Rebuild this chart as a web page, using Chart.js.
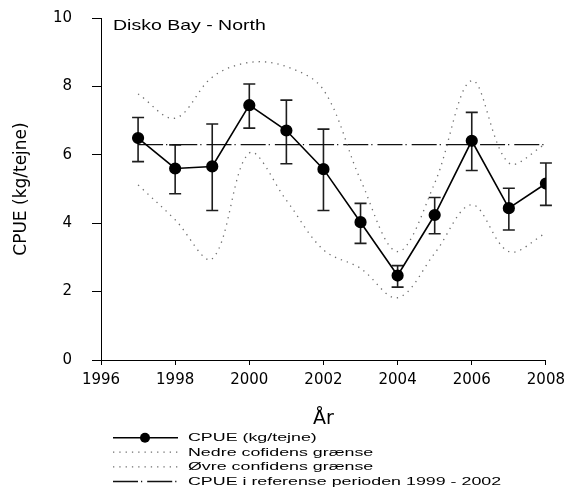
<!DOCTYPE html>
<html>
<head>
<meta charset="utf-8">
<script src="https://cdn.jsdelivr.net/npm/chart.js@4.4.1/dist/chart.umd.min.js"></script>
<style>
  html, body { margin: 0; padding: 0; background: #fff; }
  #wrap { width: 571px; height: 500px; }
</style>
</head>
<body>
<div id="wrap"><canvas id="cpueChart" width="571" height="500"></canvas></div>
<script>
// values
const years = [1997, 1998, 1999, 2000, 2001, 2002, 2003, 2004, 2005, 2006, 2007, 2008];
const cpue = [6.49, 5.60, 5.66, 7.45, 6.71, 5.58, 4.03, 2.47, 4.24, 6.41, 4.44, 5.16];
const errHigh = [7.09, 6.29, 6.90, 8.07, 7.60, 6.75, 4.58, 2.76, 4.75, 7.24, 5.02, 5.76];
const errLow = [5.80, 4.86, 4.37, 6.78, 5.74, 4.37, 3.41, 2.13, 3.69, 5.54, 3.80, 4.52];
const lowerCI = [5.12, 4.10, 2.96, 6.05, 4.67, 3.22, 2.68, 1.82, 3.12, 4.54, 3.17, 3.71];
const upperCI = [7.78, 7.07, 8.27, 8.70, 8.58, 7.90, 5.27, 3.17, 5.17, 8.17, 5.76, 6.32];
const refYears = [1997, 2008];
const refCpue = [6.3, 6.3];

const panelTitle = 'Disko Bay - North';
const labels = [
  'CPUE (kg/tejne)',
  'Nedre cofidens grænse',
  'Øvre confidens grænse',
  'CPUE i referense perioden 1999 - 2002'
];

const toPoints = (xs, ys) => xs.map((x, i) => ({ x: x, y: ys[i] }));

const dotColor = '#6e6e6e';
const refDash = [25, 3, 1.2, 5];
const dotDash = [1.3, 5];

// error bars drawn under the points
const errorBars = {
  id: 'errorBars',
  beforeDatasetsDraw(chart) {
    const { ctx, scales: { x, y } } = chart;
    ctx.save();
    ctx.strokeStyle = '#1e1e1e';
    ctx.lineWidth = 1.6;
    for (let i = 0; i < years.length; i++) {
      const px = x.getPixelForValue(years[i]);
      const top = y.getPixelForValue(errHigh[i]);
      const bot = y.getPixelForValue(errLow[i]);
      ctx.beginPath();
      ctx.moveTo(px, top);
      ctx.lineTo(px, bot);
      ctx.moveTo(px - 6, top);
      ctx.lineTo(px + 6, top);
      ctx.moveTo(px - 6, bot);
      ctx.lineTo(px + 6, bot);
      ctx.stroke();
    }
    ctx.restore();
  }
};

const wideText = (ctx, text, x, y, sx) => {
  ctx.save();
  ctx.translate(x, y);
  ctx.scale(sx, 1);
  ctx.fillText(text, 0, 0);
  ctx.restore();
};

// panel title and the legend under the x axis
const annotations = {
  id: 'annotations',
  afterDraw(chart) {
    const { ctx } = chart;
    ctx.save();
    ctx.fillStyle = '#000';
    ctx.textAlign = 'left';
    ctx.textBaseline = 'alphabetic';
    ctx.font = '15px "Liberation Sans", Arial, sans-serif';
    wideText(ctx, panelTitle, 113, 29.5, 1.3);

    const rowY = [437.7, 452.2, 466.8, 481.5];
    const x0 = 113, x1 = 178, tx = 188;
    const ds = chart.data.datasets;
    for (let r = 0; r < 4; r++) {
      const d = ds[r];
      ctx.save();
      ctx.strokeStyle = d.borderColor;
      ctx.lineWidth = d.borderWidth;
      ctx.setLineDash(d.borderDash || []);
      ctx.beginPath();
      ctx.moveTo(x0, rowY[r]);
      ctx.lineTo(x1, rowY[r]);
      ctx.stroke();
      ctx.restore();
      if (r === 0) {
        ctx.beginPath();
        ctx.arc(145, rowY[r], 5, 0, Math.PI * 2);
        ctx.fill();
      }
      ctx.font = '11.5px "Liberation Sans", Arial, sans-serif';
      ctx.textBaseline = 'middle';
      wideText(ctx, d.label, tx, rowY[r] + 0.5, 1.55);
    }
    ctx.restore();
  }
};

new Chart(document.getElementById('cpueChart'), {
  type: 'line',
  data: {
    datasets: [
      {
        label: labels[0],
        data: toPoints(years, cpue),
        borderColor: '#000',
        borderWidth: 1.6,
        pointRadius: 5.3,
        pointBackgroundColor: '#000',
        pointBorderColor: '#000',
        tension: 0
      },
      {
        label: labels[1],
        data: toPoints(years, lowerCI),
        borderColor: dotColor,
        borderWidth: 1.3,
        borderDash: dotDash,
        pointRadius: 0,
        tension: 0.35
      },
      {
        label: labels[2],
        data: toPoints(years, upperCI),
        borderColor: dotColor,
        borderWidth: 1.3,
        borderDash: dotDash,
        pointRadius: 0,
        tension: 0.35
      },
      {
        label: labels[3],
        data: toPoints(refYears, refCpue),
        borderColor: '#111',
        borderWidth: 1.3,
        borderDash: refDash,
        pointRadius: 0,
        tension: 0
      }
    ]
  },
  options: {
    responsive: false,
    animation: false,
    devicePixelRatio: 1,
    layout: {
      autoPadding: false,
      padding: { left: 1, right: 25, top: 18, bottom: 0 }
    },
    plugins: {
      legend: { display: false },
      tooltip: { enabled: false }
    },
    scales: {
      x: {
        type: 'linear',
        min: 1996,
        max: 2008,
        afterFit: (s) => { s.height = 140; },
        border: { color: '#000', width: 1 },
        grid: { drawOnChartArea: false, drawTicks: true, tickLength: 5, color: '#000' },
        ticks: {
          stepSize: 2,
          padding: 6,
          color: '#000',
          font: { family: '"DejaVu Sans", sans-serif', size: 15 },
          callback: (v) => String(v)
        },
        title: {
          display: true,
          text: 'År',
          color: '#000',
          font: { family: '"DejaVu Sans", sans-serif', size: 19 },
          padding: { top: 0, bottom: 70 }
        }
      },
      y: {
        min: 0,
        max: 10,
        afterFit: (s) => {
          s.width = 100;
          s.paddingTop = 0;
          s.paddingBottom = 0;
        },
        border: { color: '#000', width: 1 },
        grid: { drawOnChartArea: false, drawTicks: true, tickLength: 9, color: '#000' },
        ticks: {
          stepSize: 2,
          padding: 20,
          color: '#000',
          font: { family: '"DejaVu Sans", sans-serif', size: 15 }
        },
        title: {
          display: true,
          text: 'CPUE (kg/tejne)',
          color: '#000',
          font: { family: '"DejaVu Sans", sans-serif', size: 17 },
          padding: { top: 10, bottom: 0 }
        }
      }
    }
  },
  plugins: [errorBars, annotations]
});
</script>
</body>
</html>
